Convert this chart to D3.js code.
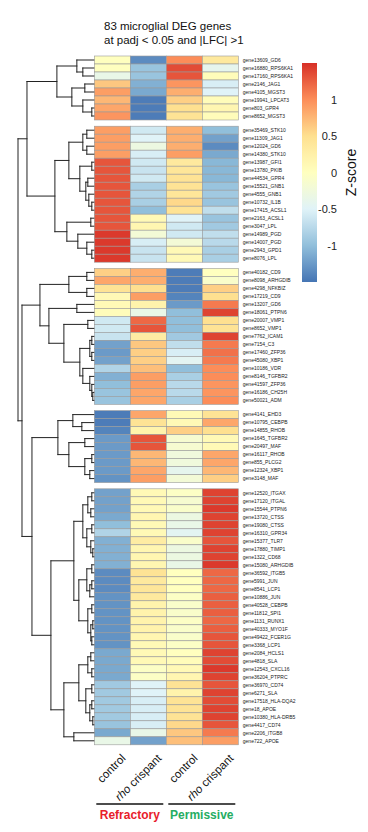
<!DOCTYPE html>
<html><head><meta charset="utf-8">
<script src="https://cdn.jsdelivr.net/npm/d3@7"></script>
<style>
html,body{margin:0;padding:0;background:#fff;}
svg{display:block;font-family:"Liberation Sans",Arial,Helvetica,sans-serif;}
</style>
</head><body>
<svg id="chart" width="368" height="832"></svg>
<script>
// ---------------- DATA ----------------
const titleLines = ["83 microglial DEG genes", "at padj < 0.05 and |LFC| >1"];
const columns = ["control", "rho crispant", "control", "rho crispant"];
const groupNames = ["Refractory", "Permissive"];
const groupColors = ["#e8202a", "#25ad62"];
const groupColumns = [[0, 1], [2, 3]];
const clusterSizes = [8, 17, 17, 9, 32];
const legendTicks = [1, 0.5, 0, -0.5, -1];
const legendTitle = "Z-score";

const genes = [
"gene13609_GD6","gene16880_RPS6KA1","gene17160_RPS6KA1","gene2146_JAG1","gene4105_MGST3","gene19941_LPCAT3","gene803_GPR4","gene8652_MGST3",
"gene35469_STK10","gene11309_JAG1","gene12024_GD6","gene14380_STK10","gene13987_GFI1","gene13780_PKIB","gene44534_GPR4","gene15521_GNB1","gene4555_GNB1","gene10732_IL1B","gene17415_ACSL1","gene2163_ACSL1","gene3047_LPL","gene14989_PGD","gene14007_PGD","gene2943_GPD1","gene8076_LPL",
"gene40182_CD9","gene8098_ARHGDIB","gene4298_NFKBIZ","gene17219_CD9","gene13207_GD6","gene18061_PTPN6","gene20007_VMP1","gene8652_VMP1","gene7762_ICAM1","gene7154_C3","gene17460_ZFP36","gene45080_XBP1","gene10186_VDR","gene8146_TGFBR2","gene41597_ZFP36","gene16186_CH25H","gene50021_ADM",
"gene4141_EHD3","gene10795_CEBPB","gene14855_RHOB","gene1645_TGFBR2","gene20497_MAF","gene16117_RHOB","gene855_PLCG2","gene12324_XBP1","gene3148_MAF",
"gene12520_ITGAX","gene17120_ITGAL","gene15544_PTPN6","gene13720_CTSS","gene19080_CTSS","gene16310_GPR34","gene15377_TLR7","gene17880_TIMP1","gene1322_CD68","gene15080_ARHGDIB","gene36592_ITGB5","gene5991_JUN","gene8541_LCP1","gene10886_JUN","gene40528_CEBPB","gene11812_SPI1","gene1131_RUNX1","gene40333_MYO1F","gene49422_FCER1G","gene3368_LCP1","gene2084_HCLS1","gene4818_SLA","gene12543_CXCL16","gene36204_PTPRC","gene36970_CD74","gene6271_SLA","gene17518_HLA-DQA2","gene18_APOE","gene10380_HLA-DRB5","gene4417_CD74","gene2206_ITGB8","gene722_APOE"
];

// z-scores, one array per column (row order as genes)
const zRefControl = [
 0.0, 0.0,-0.35, 0.65, 0.9, 0.75, 0.85, 0.95,
 0.9, 0.9, 0.9, 0.9, 1.3, 1.3, 1.3, 1.3, 1.3, 1.3, 1.3, 1.3, 1.3, 1.45, 1.45, 1.45, 1.45,
 0.6, 0.85, 0.45, 0.1, 0.1, 0.05,-0.6,-0.6,-0.65,-1.2,-1.25,-1.2,-0.8,-1.1,-1.0,-0.95,-0.95,
-1.45,-1.45,-1.4,-1.25,-1.25,-1.25,-1.25,-1.25,-1.3,
-1.2,-1.2,-1.2,-1.15,-1.0,-0.8,-1.1,-1.1,-1.1,-1.1,-1.35,-1.35,-1.35,-1.3,-1.3,-1.3,-1.3,-1.3,-1.3,-1.3,-1.15,-1.15,-1.15,-1.15,-0.9,-0.9,-0.9,-0.9,-0.9,-0.95,-1.15,-0.35
];
const zRefRho = [
-1.35,-0.95,-0.95,-1.1,-1.15,-1.45,-1.45,-1.45,
-0.6,-0.5,-0.3,-0.55,-0.6,-0.65,-0.6,-0.85,-0.8,-0.85,-1.0, 0.1, 0.15,-0.2,-0.55,-0.65,-0.65,
 0.8, 0.8, 0.5, 0.9, 0.2,-0.35, 1.2, 1.3, 0.3, 0.65, 0.6, 0.6, 0.7, 0.9, 0.9, 0.85, 0.85,
 0.85, 0.45, 0.2, 1.3, 1.3, 0.75, 0.75, 0.85, 0.9,
 0.1, 0.1, 0.1, 0.15, 0.1, 0.1, 0.3, 0.15, 0.15, 0.15, 0.45, 0.35, 0.4, 0.35, 0.2, 0.2, 0.2, 0.2, 0.15, 0.1, 0.1, 0.1,-0.05,-0.05,-0.5,-0.5,-0.55,-0.55,-0.55,-0.55,-0.35,-1.2
];
const zPermControl = [
 1.0, 1.35, 1.3, 0.95, 0.8, 0.6, 0.5, 0.45,
 0.8, 0.8, 0.8, 0.9, 0.35, 0.4, 0.45, 0.45, 0.4, 0.55, 0.45,-0.5,-0.6,-0.6,-0.2, 0.1, 0.1,
-1.45,-1.45,-1.45,-1.4,-1.25,-1.0,-1.0,-1.0,-0.9,-0.7,-0.55,-0.45,-1.0,-0.85,-0.75,-0.75,-0.85,
 0.1, 0.1, 0.6,-0.15,-0.15,-0.25,-0.25,-0.4,-0.2,
-0.05,-0.15,-0.1,-0.3,-0.35,-0.45,-0.1,-0.3,-0.3,-0.35, 0.0, 0.0, 0.0,-0.05,-0.1,-0.1,-0.05,-0.1,-0.1,-0.05, 0.0, 0.05, 0.1, 0.15, 0.45, 0.2, 0.45, 0.45, 0.45, 0.55, 0.65, 0.7
];
const zPermRho = [
 0.35,-0.4, 0.05,-0.55,-0.5, 0.05, 0.15, 0.05,
-1.0,-1.2,-1.35,-1.15,-1.05,-1.05,-1.05,-0.95,-0.9,-0.95,-0.7,-0.95,-0.9,-0.7,-0.75,-0.85,-0.85,
 0.0,-0.1, 0.6, 0.5, 1.1, 1.4, 0.5, 0.45, 1.4, 1.1, 1.15, 1.1, 1.0, 1.0, 0.95, 0.95, 1.0,
 0.45, 0.85, 0.5, 0.1, 0.1, 0.85, 0.85, 0.75, 0.6,
 1.4, 1.4, 1.45, 1.4, 1.4, 1.4, 1.3, 1.4, 1.4, 1.45, 1.2, 1.2, 1.2, 1.25, 1.25, 1.25, 1.2, 1.25, 1.3, 1.3, 1.4, 1.35, 1.45, 1.4, 1.3, 1.4, 1.35, 1.4, 1.4, 1.3, 1.1, 0.9
];

// row dendrogram: [mergeHeight, left, right]; leaves are row indices
const dendC1 = [37, [17, 0, [11, 1, 2]], [22, [9, 3, 4], [11, 5, [2, 6, 7]]]];
const dendC2 = [39, [25, [11, [7, 8, 9], [7, 10, 11]], [14, [2, 12, 13], [8, [6, 14, 15], [5, 16, [2, 17, 18]]]]],
                    [27, [3, 19, 20], [16, 21, [7, 22, [2, 23, 24]]]]];
const dendC3 = [54, [25, [7, 25, 26], [7, 27, 28]],
                    [45, [17, 29, 30], [30, [6, 31, 32], [14, [4, [2, 33, 34], [2, 35, 36]], [11, 37, [4, 38, [2, 39, [1, 40, 41]]]]]]]];
const dendC4 = [36, [21, 42, [12, 43, 44]], [25, [9, 45, 46], [9, [2, 47, 48], [4, 49, 50]]]];
const dendC5 = [43, [20, [11, [6, [2, 51, 52], [3, 53, 54]], [7, [2, 55, 56], [3, 57, [1, 58, 59]]]],
                         [15, [7, [2, 60, 61], [4, [2, 62, 63], 64]], [6, [2, 65, 66], [3, [1, 67, 68], [2, 69, 70]]]]],
                    [30, [15, [6, [3, 71, 72], [2, 73, 74]], [8, [2, 75, 76], [4, [2, 77, 78], [1, 79, 80]]]], [20, 81, 82]]];
const dendRoot = [76, [67, dendC1, dendC2], [72, dendC3, [62, dendC4, dendC5]]];

// ---------------- LAYOUT ----------------
const svg = d3.select("#chart");
const W = 368, H = 832;
svg.append("rect").attr("width", W).attr("height", H).attr("fill", "#fff");

const heatLeft = 94.3, heatRight = 238.3, heatTop = 56, rowH = 8, gapH = 6.2;
const zCols = [zRefControl, zRefRho, zPermControl, zPermRho];
const nRows = genes.length;

// block index for each row
const blockOf = [];
clusterSizes.forEach((s, b) => { for (let k = 0; k < s; k++) blockOf.push(b); });

const x = d3.scaleBand().domain(d3.range(columns.length)).range([heatLeft, heatRight]).padding(0);
const yIdx = d3.scaleLinear().domain([0, nRows]).range([heatTop, heatTop + nRows * rowH]);
const yTop = i => yIdx(i) + blockOf[i] * gapH;
const yMid = i => yTop(i) + rowH / 2;

const color = d3.scaleLinear()
  .domain([-1.5, -1, -0.5, 0, 0.5, 1, 1.5])
  .range(["#4575b4", "#91bfdb", "#e0f3f8", "#ffffbf", "#fee090", "#fc8d59", "#d73027"])
  .interpolate(d3.interpolateRgb).clamp(true);

// title
svg.append("g").selectAll("text").data(titleLines).join("text")
  .attr("x", 104).attr("y", (d, i) => 30 + i * 13.5)
  .attr("font-size", 11.5).attr("fill", "#111").text(d => d);

// heatmap cells
const cells = [];
zCols.forEach((arr, c) => arr.forEach((v, r) => cells.push({ r, c, v })));
svg.append("g").selectAll("rect").data(cells).join("rect")
  .attr("x", d => x(d.c)).attr("y", d => yTop(d.r))
  .attr("width", x.bandwidth()).attr("height", rowH)
  .attr("fill", d => color(d.v))
  .attr("stroke", "#9a9a9a").attr("stroke-width", 0.6);

// row labels
svg.append("g").selectAll("text").data(genes).join("text")
  .attr("x", heatRight + 4.5).attr("y", (d, i) => yMid(i) + 1.8)
  .attr("font-size", 5).attr("fill", "#222").text(d => d);

// dendrogram
const root = d3.hierarchy(dendRoot, d => Array.isArray(d) ? d.slice(1) : null);
const hx = d3.scaleLinear().domain([0, dendRoot[0]]).range([heatLeft - 0.5, 18]);
root.eachAfter(n => {
  if (n.children) {
    n.h = n.data[0];
    n.py = (n.children[0].py + n.children[1].py) / 2;
  } else {
    n.h = 0;
    n.py = yMid(n.data);
  }
  n.px = hx(n.h);
});
const segs = [];
root.each(n => {
  if (!n.children) return;
  const [a, b] = n.children;
  segs.push([n.px, a.py, n.px, b.py]);
  segs.push([n.px, a.py, a.px, a.py]);
  segs.push([n.px, b.py, b.px, b.py]);
});
svg.append("g").selectAll("line").data(segs).join("line")
  .attr("x1", d => d[0]).attr("y1", d => d[1]).attr("x2", d => d[2]).attr("y2", d => d[3])
  .attr("stroke", "#222").attr("stroke-width", 1).attr("stroke-linecap", "square");

// column labels (rotated 45)
const colLab = svg.append("g").selectAll("text").data(columns).join("text")
  .attr("transform", (d, i) => `translate(${x(i) + x.bandwidth() / 2 + 14},759) rotate(-45)`)
  .attr("text-anchor", "end").attr("font-size", 11.5).attr("fill", "#111");
colLab.each(function (d) {
  const t = d3.select(this);
  if (d.startsWith("rho")) {
    t.append("tspan").attr("font-style", "italic").text("rho");
    t.append("tspan").text(d.slice(3));
  } else t.text(d);
});

// group bars + labels
const grp = svg.append("g");
groupNames.forEach((g, k) => {
  const cs = groupColumns[k];
  const x0 = x(cs[0]) + 2, x1 = x(cs[cs.length - 1]) + x.bandwidth() - 3;
  grp.append("line").attr("x1", x0).attr("x2", x1).attr("y1", 804).attr("y2", 804)
    .attr("stroke", "#111").attr("stroke-width", 1.3);
  grp.append("text").attr("x", (x0 + x1) / 2).attr("y", 819).attr("text-anchor", "middle")
    .attr("font-size", 12).attr("font-weight", "bold").attr("fill", groupColors[k]).text(g);
});

// legend
const legX = 302, legW = 15, legTop = 63, legBot = 282;
const ly = d3.scaleLinear().domain([-1.5, 1.5]).range([legBot, legTop]);
const defs = svg.append("defs");
const grad = defs.append("linearGradient").attr("id", "zgrad")
  .attr("x1", 0).attr("y1", 1).attr("x2", 0).attr("y2", 0);
d3.range(-1.5, 1.5001, 0.25).forEach(v => {
  grad.append("stop").attr("offset", (v + 1.5) / 3).attr("stop-color", color(v));
});
svg.append("rect").attr("x", legX).attr("y", legTop).attr("width", legW).attr("height", legBot - legTop)
  .attr("fill", "url(#zgrad)");
svg.append("g").selectAll("text").data(legendTicks).join("text")
  .attr("x", 337).attr("y", d => ly(d) + 4).attr("text-anchor", "end")
  .attr("font-size", 11).attr("fill", "#222").text(d => d);
svg.append("text").attr("transform", `translate(356,${ly(0)}) rotate(-90)`)
  .attr("text-anchor", "middle").attr("font-size", 14).attr("fill", "#111").text(legendTitle);
</script>
</body></html>
